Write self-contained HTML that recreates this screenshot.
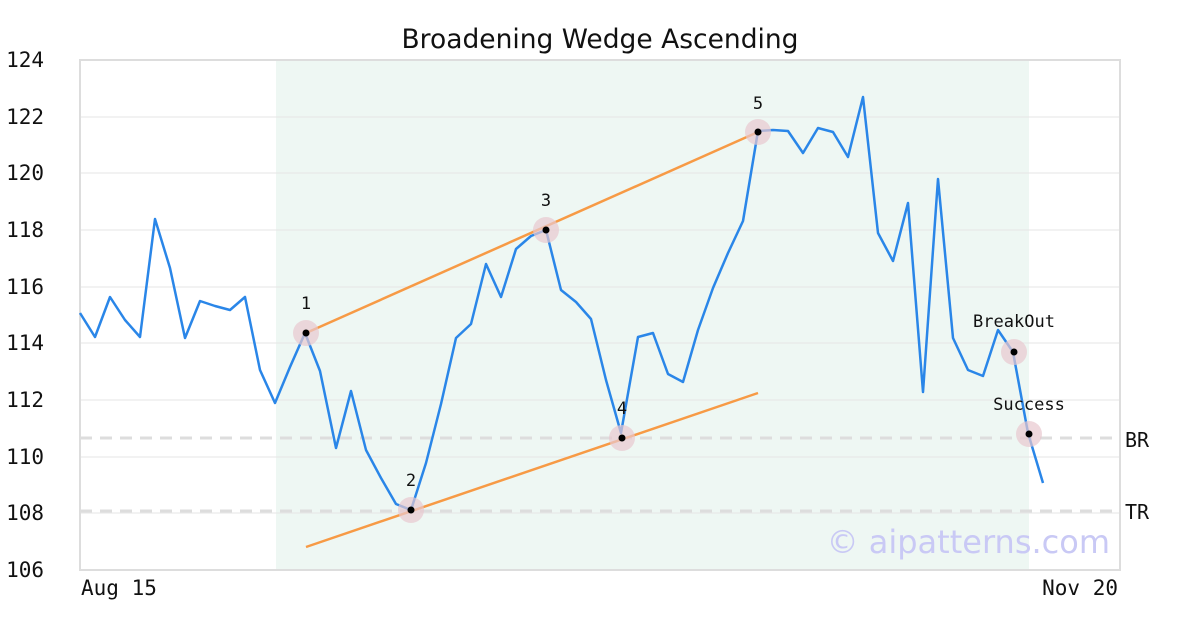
<!DOCTYPE html>
<html><head><meta charset="utf-8"><style>
body{margin:0;background:#fff}
svg{display:block}
text{font-family:"DejaVu Sans Mono","Liberation Mono",monospace}
</style></head><body>
<svg width="1200" height="630" xmlns="http://www.w3.org/2000/svg">
<rect x="276" y="60" width="753" height="510" fill="#eef7f3"/>
<g stroke="#e6e6e6" stroke-width="1">
<line x1="80" x2="1120" y1="117" y2="117"/><line x1="80" x2="1120" y1="173" y2="173"/>
<line x1="80" x2="1120" y1="230" y2="230"/><line x1="80" x2="1120" y1="287" y2="287"/>
<line x1="80" x2="1120" y1="343" y2="343"/><line x1="80" x2="1120" y1="400" y2="400"/>
<line x1="80" x2="1120" y1="457" y2="457"/><line x1="80" x2="1120" y1="513" y2="513"/>
</g>
<rect x="80" y="60" width="1040" height="510" fill="none" stroke="#ddd" stroke-width="2"/>
<g stroke="#ddd" stroke-width="3" stroke-dasharray="12,8">
<line x1="80" x2="1120" y1="438" y2="438"/><line x1="80" x2="1120" y1="511" y2="511"/>
</g>
<text x="1125" y="447" font-size="20" fill="#111">BR</text>
<text x="1125" y="519" font-size="20" fill="#111">TR</text>
<g font-size="21" fill="#111" text-anchor="end">
<text x="44" y="67">124</text><text x="44" y="124">122</text><text x="44" y="180">120</text>
<text x="44" y="237">118</text><text x="44" y="294">116</text><text x="44" y="350">114</text>
<text x="44" y="407">112</text><text x="44" y="464">110</text><text x="44" y="520">108</text>
<text x="44" y="577">106</text>
</g>
<text x="81" y="595" font-size="21" fill="#111">Aug 15</text>
<text x="1118" y="595" font-size="21" fill="#111" text-anchor="end">Nov 20</text>
<text x="600" y="48" font-size="26.5" fill="#111" text-anchor="middle" style="font-family:'DejaVu Sans',sans-serif">Broadening Wedge Ascending</text>
<text x="1110" y="553" font-size="32" fill="#c9c9f5" text-anchor="end" style="font-family:'DejaVu Sans',sans-serif">© aipatterns.com</text>
<g stroke="#f79a45" stroke-width="2.5">
<line x1="306" y1="333" x2="758" y2="132"/><line x1="306" y1="547" x2="758" y2="393"/>
</g>
<polyline fill="none" stroke="#2a86e8" stroke-width="2.5" stroke-linejoin="round" points="80,313 95,337 110,297 125,320 140,337 155,219 170,268 185,338 200,301 215,306 230,310 245,297 260,370 275,403 290,367 305,333 320,371 336,448 351,391 366,450 381,478 396,504 411,510 426,463 441,404 456,338 471,324 486,264 501,297 516,249 531,236 546,230 561,290 576,302 591,319 606,380 621,433 638,337 653,333 668,374 683,382 698,330 713,288 728,253 743,221 758,131 773,130 788,131 803,153 818,128 833,132 848,157 863,97 878,233 893,261 908,203 923,392 938,179 953,338 968,370 983,376 998,330 1013,352 1028,433 1043,483"/>
<g fill="#e8c8cf" opacity="0.7">
<circle cx="306" cy="333" r="13"/><circle cx="411" cy="510" r="13"/><circle cx="546" cy="230" r="13"/>
<circle cx="622" cy="438" r="13"/><circle cx="758" cy="132" r="13"/><circle cx="1014" cy="352" r="13"/>
<circle cx="1029" cy="434" r="13"/>
</g>
<g fill="#000">
<circle cx="306" cy="333" r="3.5"/><circle cx="411" cy="510" r="3.5"/><circle cx="546" cy="230" r="3.5"/>
<circle cx="622" cy="438" r="3.5"/><circle cx="758" cy="132" r="3.5"/><circle cx="1014" cy="352" r="3.5"/>
<circle cx="1029" cy="434" r="3.5"/>
</g>
<g font-size="17" fill="#111" text-anchor="middle">
<text x="306" y="309">1</text><text x="411" y="486">2</text><text x="546" y="206">3</text>
<text x="622" y="414">4</text><text x="758" y="109">5</text>
<text x="1014" y="327">BreakOut</text><text x="1029" y="410">Success</text>
</g>
</svg>
</body></html>
